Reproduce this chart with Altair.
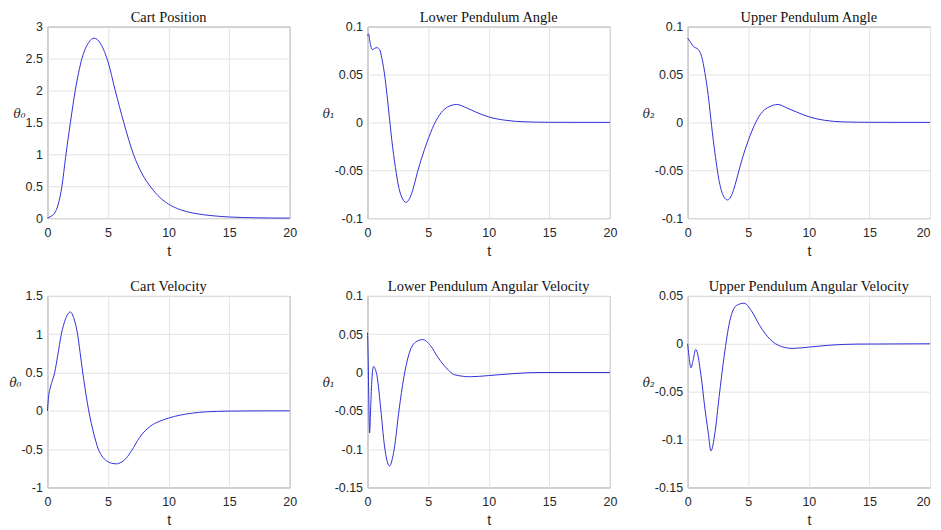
import altair as alt
import pandas as pd

# ---------------- data ----------------
x_ticks = [0, 5, 10, 15, 20]

# Cart Position
t_pos = [0, 0.3, 0.6, 0.9, 1.2, 1.5, 1.9, 2.3, 2.85, 3.4, 3.85, 4.4, 5.0, 5.6, 6.3,
         7.1, 7.8, 8.6, 9.3, 10, 11, 12, 13.5, 15, 17, 20]
v_pos = [0, 0.03, 0.08, 0.22, 0.5, 0.95, 1.5, 2.0, 2.5, 2.75, 2.82, 2.73, 2.45, 2.0, 1.5,
         1.0, 0.7, 0.47, 0.32, 0.22, 0.13, 0.08, 0.04, 0.018, 0.006, 0]
ticks_pos = [0, 0.5, 1, 1.5, 2, 2.5, 3]

# Lower Pendulum Angle
t_th1 = [0, 0.08, 0.2, 0.4, 0.6, 0.8, 1.0, 1.18, 1.46, 1.73, 2.0, 2.3, 2.6, 2.9, 3.16,
         3.4, 3.65, 3.9, 4.12, 4.5, 4.9, 5.2, 5.5, 5.8, 6.1, 6.6, 7.36, 8.2, 8.9, 10,
         11.4, 13, 15, 20]
v_th1 = [0.0905, 0.0925, 0.084, 0.076, 0.0775, 0.078, 0.076, 0.067, 0.045, 0.014, -0.018,
         -0.047, -0.069, -0.08, -0.0835, -0.081, -0.074, -0.063, -0.052, -0.036, -0.021,
         -0.011, -0.002, 0.005, 0.0105, 0.016, 0.0187, 0.015, 0.011, 0.0057, 0.0022,
         0.0006, 0.0001, 0.0]
ticks_ang = [-0.1, -0.05, 0, 0.05, 0.1]

# Upper Pendulum Angle
t_th2 = [0, 0.19, 0.47, 0.88, 1.15, 1.42, 1.7, 1.97, 2.25, 2.66, 3.0, 3.29, 3.55, 3.8,
         4.05, 4.3, 4.6, 5.0, 5.3, 5.6, 5.9, 6.2, 6.7, 7.45, 8.2, 8.96, 10.05, 11.3,
         12.9, 15, 20]
v_th2 = [0.088, 0.0846, 0.0794, 0.076, 0.069, 0.052, 0.028, -0.003, -0.032, -0.065,
         -0.078, -0.081, -0.078, -0.07, -0.059, -0.047, -0.034, -0.019, -0.009, -0.0005,
         0.0065, 0.0115, 0.016, 0.0187, 0.015, 0.011, 0.0057, 0.0022, 0.0005, 0.0001, 0]

# Cart Velocity
t_vel = [0, 0.1, 0.25, 0.4, 0.6, 0.85, 1.15, 1.5, 1.89, 2.2, 2.49, 2.7, 2.9, 3.1, 3.3,
         3.5, 3.75, 4.0, 4.2, 4.5, 4.9, 5.3, 5.7, 6.1, 6.5, 6.95, 7.6, 8.5, 9.2, 10, 11,
         12, 13.1, 15, 17, 20]
v_vel = [0, 0.185, 0.31, 0.39, 0.5, 0.72, 1.0, 1.2, 1.29, 1.2, 1.0, 0.76, 0.52, 0.3, 0.1,
         -0.07, -0.25, -0.4, -0.5, -0.59, -0.655, -0.685, -0.692, -0.67, -0.62, -0.52,
         -0.35, -0.2, -0.14, -0.095, -0.055, -0.03, -0.013, -0.004, -0.001, 0]
ticks_vel = [-1, -0.5, 0, 0.5, 1, 1.5]

# Lower Pendulum Angular Velocity
t_w1 = [0, 0.05, 0.1, 0.17, 0.25, 0.35, 0.5, 0.65, 0.8, 1.1, 1.4, 1.81, 2.2, 2.6, 3.0,
        3.5, 4.0, 4.56, 5.2, 5.8, 6.5, 7.2, 8.5, 10, 12, 14, 20]
v_w1 = [0.052, 0.02, -0.03, -0.079, -0.05, -0.012, 0.008, 0.004, -0.006, -0.049, -0.096,
        -0.122, -0.1, -0.049, -0.006, 0.028, 0.040, 0.043, 0.035, 0.020, 0.006, -0.003,
        -0.0055, -0.004, -0.0015, 0, 0]
ticks_w1 = [-0.15, -0.1, -0.05, 0, 0.05, 0.1]

# Upper Pendulum Angular Velocity
t_w2 = [0, 0.1, 0.27, 0.45, 0.66, 0.85, 1.0, 1.2, 1.37, 1.7, 1.92, 2.25, 2.6, 3.0, 3.48,
        4.03, 4.66, 5.26, 5.95, 6.77, 7.73, 8.68, 10.05, 11.8, 14, 20]
v_w2 = [0, -0.012, -0.025, -0.017, -0.006, -0.012, -0.024, -0.043, -0.062, -0.093,
        -0.112, -0.093, -0.055, -0.014, 0.024, 0.040, 0.0424, 0.0345, 0.019, 0.005,
        -0.0028, -0.0048, -0.0034, -0.0014, -0.0003, 0]
ticks_w2 = [-0.15, -0.1, -0.05, 0, 0.05]

panels = [
    ("Cart Position", "θ₀", t_pos, v_pos, [0, 3], ticks_pos, False),
    ("Lower Pendulum Angle", "θ₁", t_th1, v_th1, [-0.1, 0.1], ticks_ang, False),
    ("Upper Pendulum Angle", "θ₂", t_th2, v_th2, [-0.1, 0.1], ticks_ang, True),
    ("Cart Velocity", "θ̇₀", t_vel, v_vel, [-1, 1.5], ticks_vel, False),
    ("Lower Pendulum Angular Velocity", "θ̇₁", t_w1, v_w1, [-0.15, 0.1], ticks_w1, False),
    ("Upper Pendulum Angular Velocity", "θ̇₂", t_w2, v_w2, [-0.15, 0.05], ticks_w2, True),
]

W, H = 243, 192


def make_panel(title, ylab, t, v, dom, ticks, last_col):
    df = pd.DataFrame({"t": t, "v": v})
    x_axis_kw = dict(values=x_ticks, title="t", titlePadding=6, labelPadding=8)
    if last_col:
        x_axis_kw["labelAlign"] = alt.condition(
            "datum.value == 20", alt.value("right"), alt.value("center")
        )
    return (
        alt.Chart(
            df,
            title=alt.Title(
                title, font="Liberation Serif", fontSize=14.5, fontWeight="normal",
                color="#111111", frame="group", anchor="middle",
                baseline="alphabetic", offset=-15.5,
            ),
        )
        .mark_line(color="#3030d8", strokeWidth=1, interpolate="monotone")
        .encode(
            x=alt.X(
                "t:Q",
                scale=alt.Scale(domain=[0, 20], nice=False, zero=False),
                axis=alt.Axis(**x_axis_kw),
            ),
            y=alt.Y(
                "v:Q",
                scale=alt.Scale(domain=dom, nice=False, zero=False),
                axis=alt.Axis(
                    values=ticks, title=ylab, titleAngle=0, titleAlign="right",
                    titleBaseline="middle", titleY=H / 2 - 9, titlePadding=0,
                    titleFont="DejaVu Serif", titleFontStyle="italic",
                    titleFontSize=12, labelPadding=5,
                    labelExpr="toString(datum.value)",
                ),
            ),
        )
        .properties(width=W, height=H)
    )


charts = [make_panel(*p) for p in panels]

chart = (
    alt.concat(*charts, columns=3, spacing=78, bounds="flush")
    .properties(padding={"left": -0.5, "top": 0, "right": 0, "bottom": 0})
    .configure_view(stroke="#7c7c7c", strokeWidth=1)
    .configure_axis(
        labelFont="Liberation Sans", labelFontSize=12.5, labelColor="#262626",
        labelFlush=False, labelOverlap=False,
        titleFont="Liberation Sans", titleFontSize=14, titleFontWeight="normal",
        titleColor="#262626",
        gridColor="#e3e3e3", gridWidth=1, domain=False, ticks=False, tickSize=0,
    )
)

chart.save("out.html", embed_options={"renderer": "svg", "actions": False})
